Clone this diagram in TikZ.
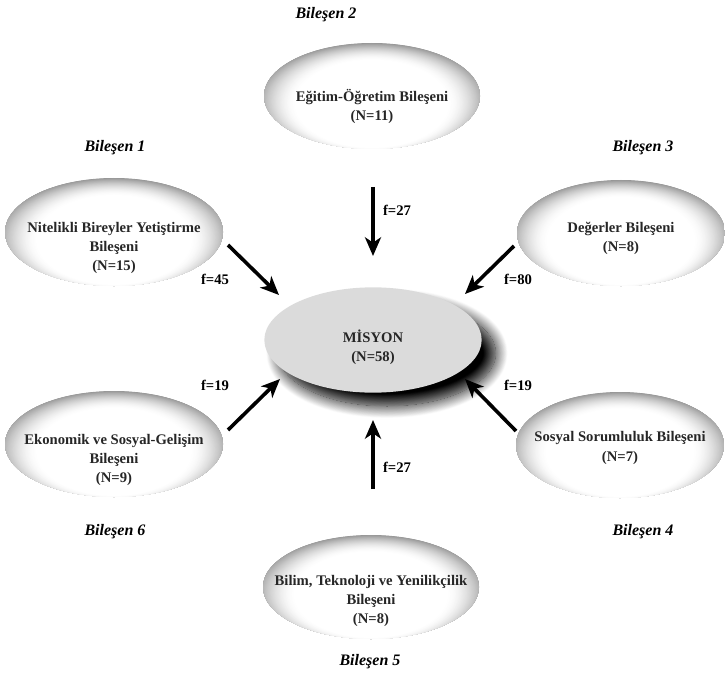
\documentclass[tikz,border=0pt]{standalone}
\usepackage{fontspec}
\setmainfont{Liberation Serif}
\usetikzlibrary{shadows.blur,arrows.meta,shapes.geometric}
\tikzset{
  elltext/.style={align=center, font=\fontsize{11}{14.3}\selectfont\bfseries, text=black!85, inner sep=0pt},
  blabel/.style={font=\fontsize{12}{14}\selectfont\bfseries\itshape, inner sep=0pt},
  flabel/.style={font=\fontsize{11}{13}\selectfont\bfseries, inner sep=0pt},
  bigarrow/.style={line width=2.7pt, -{Stealth[length=14pt, width=12pt, inset=4pt]}}
}
% soft shaded ellipse: centre x, centre y, x radius, y radius (pixel units)
\newcommand{\softell}[4]{%
  \begin{scope}
    \clip (#1,#2) ellipse [x radius={#3*0.75pt}, y radius={#4*0.75pt}];
    \foreach \i in {0,...,48}{%
      \pgfmathsetmacro{\tt}{\i/48}%
      \pgfmathsetmacro{\dk}{41*pow(max(1-\tt,0.0001),1.8)}%
      \fill[black!\dk] (#1,{#2+#4*(0.08+0.07*\tt)}) ellipse
        [x radius={#3*(1.075-0.375*\tt)*0.75pt}, y radius={#4*(1.08-0.258*\tt)*0.75pt}];
    }
  \end{scope}}
\begin{document}
\begin{tikzpicture}[x=0.75pt, y=-0.75pt]
\useasboundingbox (0,0) rectangle (725,681);
% outer ellipses
\softell{372}{96}{108}{53}
\softell{114}{232}{109}{54}
\softell{621}{233}{104}{53}
\softell{114}{444}{109}{53}
\softell{620}{445}{104}{53}
\softell{371}{587}{108}{52}
% centre
\node[ellipse, fill=black!14, minimum width=163pt, minimum height=79pt, inner sep=0pt,
  blur shadow={shadow xshift=10.5pt, shadow yshift=-10pt, shadow blur radius=9pt, shadow blur steps=18, shadow opacity=100}] (m) at (373,340) {};
% texts
\node[elltext] (t2) at (372,106) {Eğitim-Öğretim Bileşeni\\(N=11)};
\node[elltext] (t1) at (114,248) {Nitelikli Bireyler Yetiştirme\\Bileşeni\\(N=15)};
\node[elltext] (t3) at (621,238) {Değerler Bileşeni\\(N=8)};
\node[elltext] (t6) at (114,460) {Ekonomik ve Sosyal-Gelişim\\Bileşeni\\(N=9)};
\node[elltext] (t4) at (620,448) {Sosyal Sorumluluk Bileşeni\\(N=7)};
\node[elltext] (t5) at (371,601) {Bilim, Teknoloji ve Yenilikçilik\\Bileşeni\\(N=8)};
\node[elltext] (tm) at (373,347) {MİSYON\\(N=58)};
% component labels
\node[blabel] (b2) at (326,15) {Bileşen 2};
\node[blabel] (b1) at (115,148) {Bileşen 1};
\node[blabel] (b3) at (643,148) {Bileşen 3};
\node[blabel] (b6) at (115,532) {Bileşen 6};
\node[blabel] (b4) at (643,532) {Bileşen 4};
\node[blabel] (b5) at (370,662) {Bileşen 5};
% arrow end points
\coordinate (a2s) at (373,187); \coordinate (a2e) at (373,256);
\coordinate (a1s) at (228,245); \coordinate (a1e) at (279,295);
\coordinate (a3s) at (514,246); \coordinate (a3e) at (465,294);
\coordinate (a6s) at (228,430); \coordinate (a6e) at (280,379);
\coordinate (a4s) at (516,431); \coordinate (a4e) at (465,379);
\coordinate (a5s) at (373,489); \coordinate (a5e) at (373,420);
\draw[bigarrow] (a2s) -- (a2e);
\draw[bigarrow] (a1s) -- (a1e);
\draw[bigarrow] (a3s) -- (a3e);
\draw[bigarrow] (a6s) -- (a6e);
\draw[bigarrow] (a4s) -- (a4e);
\draw[bigarrow] (a5s) -- (a5e);
% f labels
\node[flabel] (f2) at (397,210) {f=27};
\node[flabel] (f1) at (215,279) {f=45};
\node[flabel] (f3) at (518,279) {f=80};
\node[flabel] (f6) at (215,385) {f=19};
\node[flabel] (f4) at (518,385) {f=19};
\node[flabel] (f5) at (397,467) {f=27};
\end{tikzpicture}
\end{document}
